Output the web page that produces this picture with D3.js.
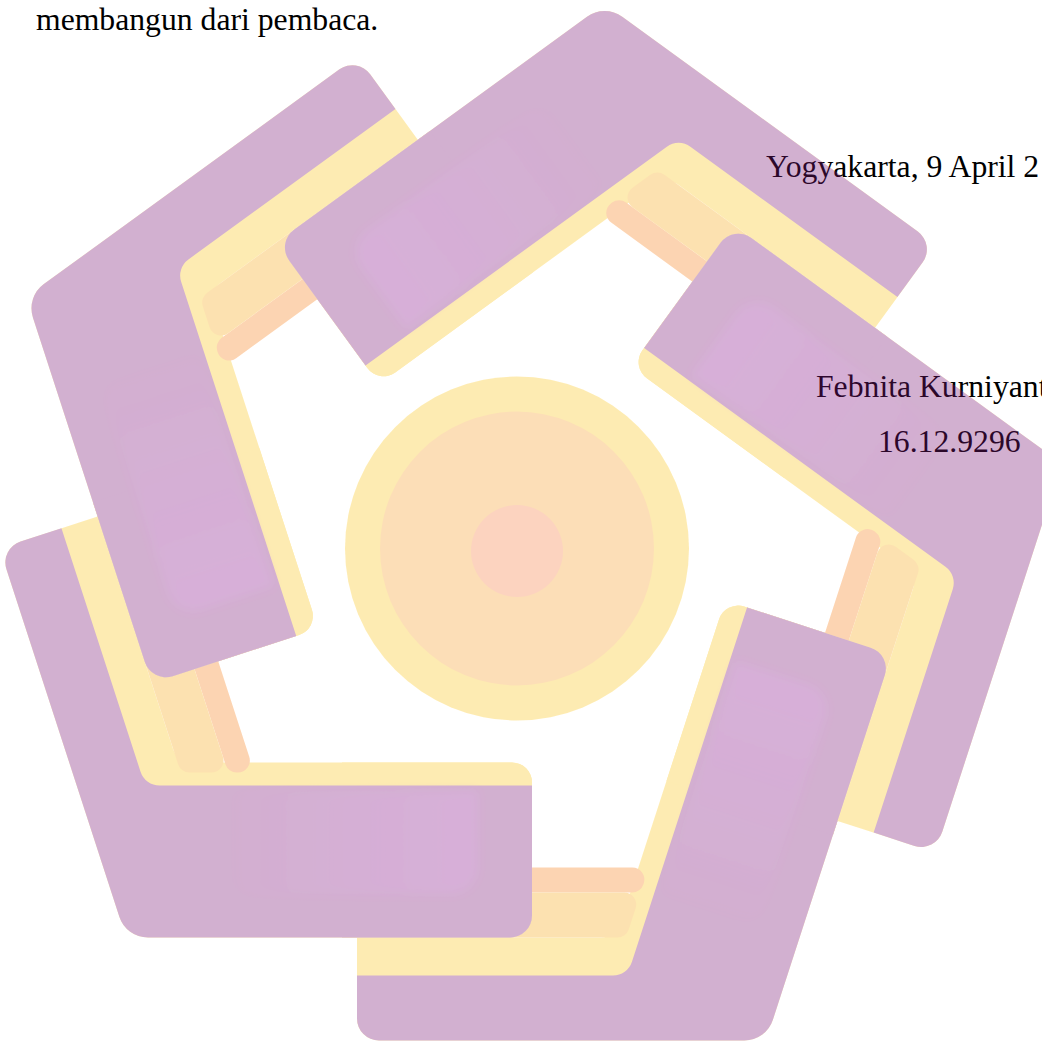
<!DOCTYPE html>
<html>
<head>
<meta charset="utf-8">
<script src="https://cdn.jsdelivr.net/npm/d3@7"></script>
<style>
  html, body { margin: 0; padding: 0; background: #fff; overflow: hidden; }
</style>
</head>
<body>
<svg id="chart"></svg>
<script>
// Page text behind the watermark
const textLines = ['membangun dari pembaca.', 'Yogyakarta, 9 April 2', 'Febnita Kurniyant', '16.12.9296'];
const textX = [36, 766, 816, 878];
const textY = [30, 177, 397, 452];

// Watermark logo: five bent arms turned around the centre
const armAngles = [0, 72, 144, 216, 288];
// band edges (distance from centre) on the long side of one arm: orange, light orange, yellow, purple, outer
const longEdges = [319, 344, 389, 427, 492];
// band edges on the short side: yellow, purple, outer
const shortEdges = [214, 237, 389];
// where the arm ends along each side, and where the orange bands stop
const armEnds = [160, 15];
const bandStop = 224;
// centre disc radii: outer ring, middle, core
const discRadii = [172, 137, 46];

const W = 1042, H = 1041;
const cx = 517, cy = 548.5;
const fade = 0.34;

const colors = {
    purple: '#7e1a78',
    glow: '#8e1793',
    yellow: '#fcc71f',
    lightOrange: '#f9aa1b',
    orange: '#f9831f',
    discMid: '#f9a12e',
    discCore: '#f98046'
};

// side normals in the arm frame
const LONG = 90, SHORT = 18, LONG_END = 180, SHORT_END = -72;

const rad = a => a * Math.PI / 180;
// point where two lines n(a1).p = d1 and n(a2).p = d2 cross
function cross(a1, d1, a2, d2) {
    const c1 = Math.cos(rad(a1)), s1 = Math.sin(rad(a1));
    const c2 = Math.cos(rad(a2)), s2 = Math.sin(rad(a2));
    const det = c1 * s2 - s1 * c2;
    return [(d1 * s2 - s1 * d2) / det, (c1 * d2 - c2 * d1) / det];
}

function roundedPath(pts, radii) {
    const p = d3.path();
    const n = pts.length;
    const a = pts[n - 1], b = pts[0];
    p.moveTo((a[0] + b[0]) / 2, (a[1] + b[1]) / 2);
    for (let i = 0; i < n; i++) {
        const v = pts[i], w = pts[(i + 1) % n];
        p.arcTo(v[0], v[1], w[0], w[1], radii[i]);
    }
    p.closePath();
    return p.toString();
}

const outerLong = longEdges[4], outerShort = shortEdges[2];

function chevron(longIn, shortIn, rIn) {
    const pts = [
        cross(LONG, outerLong, LONG_END, armEnds[0]),
        cross(LONG, outerLong, SHORT, outerShort),
        cross(SHORT, outerShort, SHORT_END, armEnds[1]),
        cross(SHORT, shortIn, SHORT_END, armEnds[1]),
        cross(SHORT, shortIn, LONG, longIn),
        cross(LONG, longIn, LONG_END, armEnds[0])
    ];
    return roundedPath(pts, [22, 30, 22, rIn, 20, 0]);
}

function band(a, b) {
    const pts = [
        cross(LONG, a, LONG_END, armEnds[0]),
        cross(LONG, a, SHORT, bandStop),
        cross(LONG, b, SHORT, bandStop),
        cross(LONG, b, LONG_END, armEnds[0])
    ];
    return roundedPath(pts, [0, 12, 12, 0]);
}

function glowRect() {
    const pts = [
        cross(SHORT, shortEdges[1] + 6, SHORT_END, -40),
        cross(SHORT, 345, SHORT_END, -40),
        cross(SHORT, 345, SHORT_END, -290),
        cross(SHORT, shortEdges[1] + 6, SHORT_END, -290)
    ];
    return roundedPath(pts, [0, 26, 26, 0]);
}

const svg = d3.select('#chart').attr('width', W).attr('height', H);

// text first, the logo is laid over it
svg.append('g')
    .selectAll('text')
    .data(textLines)
    .join('text')
    .attr('x', (d, i) => textX[i])
    .attr('y', (d, i) => textY[i])
    .attr('font-family', '"Liberation Serif", "Times New Roman", serif')
    .attr('font-size', 31.7)
    .attr('fill', '#000')
    .text(d => d);

const defs = svg.append('defs');

// zone where an arm's short end lies on top of the previous arm
const zone = [
    cross(SHORT_END, 30, SHORT, 200),
    cross(SHORT_END, 30, SHORT, 500),
    cross(SHORT_END, -175, SHORT, 500),
    cross(SHORT_END, -175, SHORT, 200)
];
defs.append('mask')
    .attr('id', 'endZone')
    .attr('maskUnits', 'userSpaceOnUse')
    .attr('x', -600).attr('y', -600).attr('width', 1200).attr('height', 1200)
    .append('path')
    .attr('d', 'M' + zone.join('L') + 'Z')
    .attr('fill', '#fff');

const g0 = cross(SHORT, 290, SHORT_END, -40);
const g1 = cross(SHORT, 290, SHORT_END, -290);
const grad = defs.append('linearGradient')
    .attr('id', 'glow')
    .attr('gradientUnits', 'userSpaceOnUse')
    .attr('x1', g0[0]).attr('y1', g0[1])
    .attr('x2', g1[0]).attr('y2', g1[1]);
grad.append('stop').attr('offset', 0).attr('stop-color', colors.glow).attr('stop-opacity', 0.9);
grad.append('stop').attr('offset', 0.45).attr('stop-color', colors.glow).attr('stop-opacity', 0.55);
grad.append('stop').attr('offset', 1).attr('stop-color', colors.glow).attr('stop-opacity', 0);

defs.append('filter')
    .attr('id', 'soft')
    .attr('x', '-20%').attr('y', '-20%').attr('width', '140%').attr('height', '140%')
    .append('feGaussianBlur')
    .attr('stdDeviation', 5);

const logo = svg.append('g')
    .attr('transform', `translate(${cx},${cy})`)
    .attr('opacity', fade);

function drawArm(g) {
    g.append('path').attr('d', chevron(longEdges[2], shortEdges[0], 20)).attr('fill', colors.yellow);
    g.append('path').attr('d', band(longEdges[0], longEdges[1])).attr('fill', colors.orange);
    g.append('path').attr('d', band(longEdges[1], longEdges[2])).attr('fill', colors.lightOrange);
    g.append('path').attr('d', chevron(longEdges[3], shortEdges[1], 0)).attr('fill', colors.purple);
}

// pass 1: whole arms
armAngles.forEach(a => {
    drawArm(logo.append('g').attr('transform', `rotate(${a})`));
});
// pass 2: short ends again, on top of the neighbour
armAngles.forEach(a => {
    drawArm(logo.append('g').attr('transform', `rotate(${a})`)
        .append('g').attr('mask', 'url(#endZone)'));
});
// pass 3: soft light patch on each short end
armAngles.forEach(a => {
    logo.append('g').attr('transform', `rotate(${a})`)
        .append('path')
        .attr('d', glowRect())
        .attr('fill', 'url(#glow)')
        .attr('filter', 'url(#soft)');
});

// centre disc
const discFill = [colors.yellow, colors.discMid, colors.discCore];
logo.selectAll('circle.disc')
    .data(discRadii)
    .join('circle')
    .attr('class', 'disc')
    .attr('cx', 0)
    .attr('cy', (d, i) => i === 2 ? 2.5 : 0)
    .attr('r', d => d)
    .attr('fill', (d, i) => discFill[i]);
</script>
</body>
</html>
